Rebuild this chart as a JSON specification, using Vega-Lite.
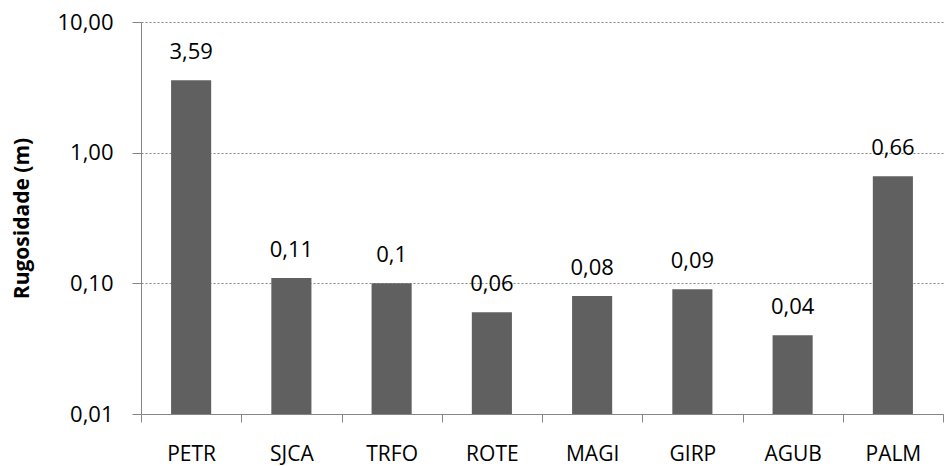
{
  "$schema": "https://vega.github.io/schema/vega-lite/v6.json",
  "autosize": "none",
  "width": 802,
  "height": 392,
  "padding": {"left": 141, "top": 22, "right": 1, "bottom": 52},
  "background": "white",
  "data": {
    "values": [
      {"site": "PETR", "value": 3.59, "label": "3,59"},
      {"site": "SJCA", "value": 0.11, "label": "0,11"},
      {"site": "TRFO", "value": 0.1, "label": "0,1"},
      {"site": "ROTE", "value": 0.06, "label": "0,06"},
      {"site": "MAGI", "value": 0.08, "label": "0,08"},
      {"site": "GIRP", "value": 0.09, "label": "0,09"},
      {"site": "AGUB", "value": 0.04, "label": "0,04"},
      {"site": "PALM", "value": 0.66, "label": "0,66"}
    ]
  },
  "encoding": {
    "x": {
      "field": "site",
      "type": "nominal",
      "sort": null,
      "scale": {"paddingInner": 0, "paddingOuter": 0},
      "axis": {
        "title": null,
        "labelAngle": 0,
        "labelFont": "Open Sans",
        "labelFontSize": 21,
        "labelColor": "#000000",
        "labelBaseline": "alphabetic",
        "labelPadding": 38,
        "domainColor": "#868686",
        "tickColor": "#868686",
        "tickSize": 8,
        "tickBand": "extent",
        "grid": false
      }
    },
    "y": {
      "field": "value",
      "type": "quantitative",
      "scale": {"type": "log", "domain": [0.01, 10], "nice": false},
      "axis": {
        "title": "Rugosidade (m)",
        "titleFont": "Open Sans",
        "titleFontSize": 21,
        "titleFontWeight": "bold",
        "titleColor": "#000000",
        "titlePadding": 24,
        "values": [0.01, 0.1, 1, 10],
        "labelExpr": "replace(format(datum.value, '.2f'), '.', ',')",
        "labelFont": "Open Sans",
        "labelFontSize": 22,
        "labelColor": "#000000",
        "labelPadding": 19,
        "domainColor": "#868686",
        "tickColor": "#868686",
        "tickSize": 9,
        "grid": true,
        "gridColor": "#868686",
        "gridDash": [2, 2],
        "gridWidth": 1
      }
    }
  },
  "layer": [
    {
      "mark": {"type": "bar", "color": "#606060", "width": {"band": 0.4}},
      "encoding": {"y2": {"datum": 0.01}}
    },
    {
      "mark": {
        "type": "text",
        "font": "Open Sans",
        "fontSize": 22,
        "color": "#000000",
        "baseline": "alphabetic",
        "dy": -21
      },
      "encoding": {"text": {"field": "label"}}
    }
  ],
  "config": {
    "view": {"stroke": null}
  }
}
